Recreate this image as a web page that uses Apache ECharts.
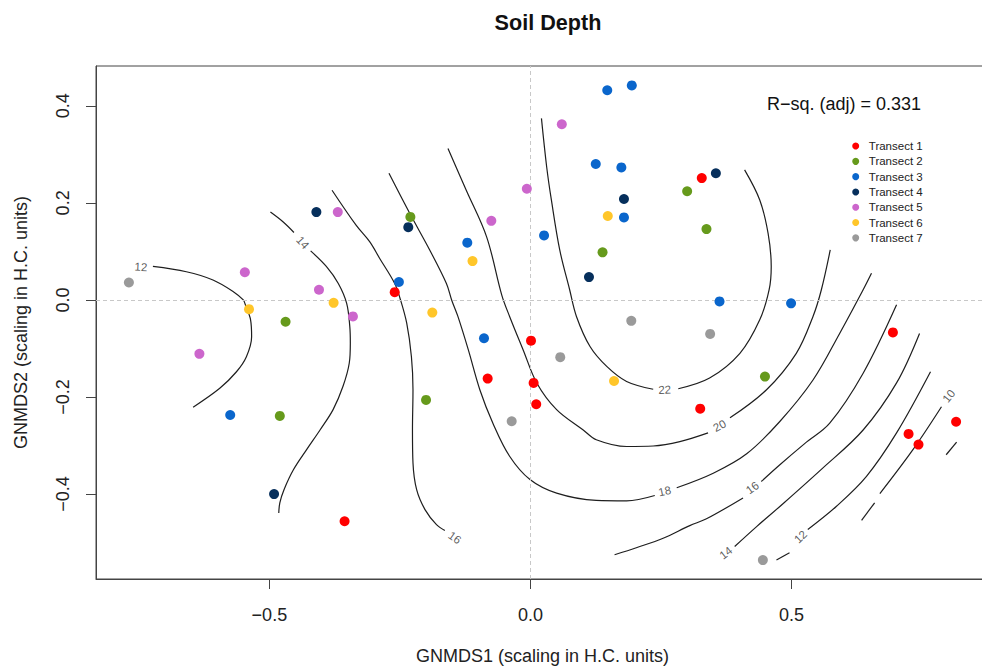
<!DOCTYPE html>
<html>
<head>
<meta charset="utf-8">
<script src="https://cdn.jsdelivr.net/npm/echarts@6/dist/echarts.min.js"></script>
<style>
html,body{margin:0;padding:0;background:#fff;}
#chart{width:982px;height:672px;}
</style>
</head>
<body>
<div id="chart"></div>
<script>
// ---------- DATA ----------
const chartTitle = 'Soil Depth';
const xAxisTitle = 'GNMDS1 (scaling in H.C. units)';
const yAxisTitle = 'GNMDS2 (scaling in H.C. units)';
const rsqText = 'R\u2212sq. (adj) = 0.331';
const xTicks = [-0.5, 0.0, 0.5];
const yTicks = [-0.4, -0.2, 0.0, 0.2, 0.4];
const xRange = [-0.832, 0.878];
const yRange = [-0.575, 0.482];

const transectNames = ['Transect 1','Transect 2','Transect 3','Transect 4','Transect 5','Transect 6','Transect 7'];
const transect1 = [[-0.260,0.016],[-0.356,-0.456],[-0.082,-0.162],[0.001,-0.084],[0.006,-0.171],[0.011,-0.215],[0.328,0.251],[0.325,-0.224],[0.694,-0.067],[0.724,-0.276],[0.743,-0.298],[0.815,-0.251]];
const transect2 = [[-0.230,0.171],[-0.469,-0.045],[-0.480,-0.239],[-0.200,-0.206],[0.138,0.098],[0.300,0.224],[0.337,0.146],[0.449,-0.158]];
const transect3 = [[-0.575,-0.237],[-0.252,0.037],[-0.121,0.118],[-0.089,-0.079],[0.026,0.133],[0.125,0.280],[0.147,0.432],[0.194,0.442],[0.174,0.273],[0.179,0.170],[0.362,-0.003],[0.499,-0.007]];
const transect4 = [[-0.410,0.181],[-0.234,0.150],[-0.491,-0.400],[0.112,0.047],[0.179,0.208],[0.355,0.261]];
const transect5 = [[-0.547,0.057],[-0.369,0.181],[-0.405,0.021],[-0.340,-0.034],[-0.634,-0.111],[-0.007,0.229],[-0.075,0.163],[0.060,0.362]];
const transect6 = [[-0.539,-0.019],[-0.377,-0.006],[-0.188,-0.026],[-0.111,0.080],[0.148,0.173],[0.160,-0.167]];
const transect7 = [[-0.769,0.036],[-0.036,-0.250],[0.057,-0.118],[0.193,-0.043],[0.344,-0.070],[0.445,-0.536]];

// contour segments (data units), split at label gaps / masked areas
const contour12Left = [[-0.723,0.069],[-0.659,0.058],[-0.608,0.041],[-0.569,0.017],[-0.550,0.000],[-0.546,-0.010],[-0.536,-0.041],[-0.534,-0.076],[-0.544,-0.117],[-0.563,-0.148],[-0.595,-0.182],[-0.646,-0.221]];
const contour14LeftA = [[-0.498,0.181],[-0.474,0.161],[-0.453,0.139]];
const contour14LeftB = [[-0.421,0.101],[-0.391,0.069],[-0.368,0.034],[-0.352,-0.007],[-0.346,-0.055],[-0.345,-0.089],[-0.347,-0.130],[-0.359,-0.178],[-0.378,-0.226],[-0.403,-0.268],[-0.429,-0.309],[-0.454,-0.350],[-0.472,-0.391],[-0.480,-0.418],[-0.482,-0.439]];
const contour16Left = [[-0.380,0.226],[-0.334,0.154],[-0.308,0.120],[-0.289,0.086],[-0.260,0.034],[-0.250,0.004],[-0.237,-0.048],[-0.228,-0.117],[-0.225,-0.185],[-0.226,-0.268],[-0.225,-0.336],[-0.218,-0.391],[-0.202,-0.432],[-0.180,-0.463],[-0.164,-0.475]];
const contour18A = [[-0.271,0.261],[-0.231,0.178],[-0.193,0.103],[-0.161,0.034],[-0.151,0.000],[-0.139,-0.034],[-0.119,-0.103],[-0.097,-0.185],[-0.072,-0.254],[-0.040,-0.322],[-0.001,-0.370],[0.050,-0.398],[0.126,-0.413],[0.184,-0.414],[0.238,-0.403]];
const contour18B = [[0.280,-0.387],[0.350,-0.357],[0.414,-0.317],[0.477,-0.251],[0.541,-0.165],[0.592,-0.069],[0.637,0.021],[0.653,0.055]];
const contour20A = [[-0.158,0.312],[-0.123,0.226],[-0.084,0.130],[-0.055,0.010],[-0.040,-0.034],[-0.014,-0.103],[0.012,-0.171],[0.050,-0.226],[0.101,-0.268],[0.126,-0.288],[0.184,-0.302],[0.235,-0.301],[0.286,-0.292],[0.340,-0.274]];
const contour20B = [[0.382,-0.243],[0.452,-0.185],[0.509,-0.110],[0.541,-0.034],[0.557,0.021],[0.574,0.103]];
const contour22A = [[0.021,0.374],[0.031,0.274],[0.040,0.206],[0.056,0.103],[0.075,0.021],[0.088,-0.034],[0.114,-0.096],[0.146,-0.137],[0.184,-0.168],[0.235,-0.184]];
const contour22B = [[0.283,-0.183],[0.343,-0.161],[0.401,-0.110],[0.439,-0.041],[0.457,0.021],[0.461,0.069],[0.455,0.137],[0.439,0.206],[0.410,0.268]];
const contour16RightA = [[0.161,-0.525],[0.204,-0.510],[0.254,-0.491],[0.305,-0.465],[0.337,-0.451],[0.407,-0.408]];
const contour16RightB = [[0.442,-0.374],[0.477,-0.340],[0.525,-0.296],[0.573,-0.254],[0.637,-0.151],[0.701,-0.010]];
const contour14Right = [[0.391,-0.508],[0.433,-0.467],[0.477,-0.426],[0.558,-0.348],[0.637,-0.268],[0.701,-0.171],[0.745,-0.069]];
const contour12RightA = [[0.471,-0.536],[0.496,-0.521]];
const contour12RightB = [[0.531,-0.473],[0.586,-0.425],[0.643,-0.364],[0.701,-0.274],[0.766,-0.148]];
const contour10A = [[0.634,-0.454],[0.659,-0.418]];
const contour10B = [[0.669,-0.399],[0.732,-0.309],[0.787,-0.220]];
const contour10C = [[0.796,-0.319],[0.816,-0.293]];

// contour labels: [x, y, level]
const contourLabels = [[-0.746,0.068,12],[-0.436,0.118,14],[-0.145,-0.490,16],[0.257,-0.394,18],[0.362,-0.259,20],[0.257,-0.185,22],[0.425,-0.387,16],[0.374,-0.521,14],[0.517,-0.488,12],[0.801,-0.198,10]];

// ---------- STYLE ----------
const FONT = '"Liberation Sans", Arial, sans-serif';
const transectColors = ['#ff0000','#669a1c','#0a66cc','#062f5c','#cc66cc','#ffc62a','#9a9a9a'];
const contourLabelRotation = [-3,-48,-35,12,28,2,36,38,44,52];
const contourSegments = [contour12Left,contour14LeftA,contour14LeftB,contour16Left,contour18A,contour18B,contour20A,contour20B,contour22A,contour22B,contour16RightA,contour16RightB,contour14Right,contour12RightA,contour12RightB,contour10A,contour10B,contour10C];
const transects = [transect1,transect2,transect3,transect4,transect5,transect6,transect7];

const chart = echarts.init(document.getElementById('chart'), null, {renderer:'svg'});
const fmt = v => (v < 0 ? '\u2212' : '') + Math.abs(v).toFixed(1);

const series = [];
// zero reference lines
series.push({
  type:'line', data:[], silent:true, z:1,
  markLine:{silent:true, symbol:'none', animation:false, label:{show:false},
    lineStyle:{color:'#c8c8c8', type:[4,3], width:1},
    data:[{xAxis:0},{yAxis:0}]}
});
contourSegments.forEach(seg => {
  series.push({type:'line', data:seg, showSymbol:false, symbol:'none', smooth:0.35, silent:true, z:3,
    lineStyle:{color:'#1e1e1e', width:1.2}});
});
const labelStyle = {show:true, position:'inside', fontSize:11.5, color:'#333',
  textBorderWidth:0, textBorderColor:'transparent', fontFamily:FONT};
series.push({
  type:'scatter', silent:true, z:4, symbolSize:0.01,
  itemStyle:{color:'#333'},
  data: contourLabels.map((d,i)=>({value:d,
    label:Object.assign({}, labelStyle, {rotate:contourLabelRotation[i], formatter:String(d[2])})})),
  label:labelStyle
});
transects.forEach((d,i) => {
  series.push({name:transectNames[i], type:'scatter', data:d, symbol:'circle', symbolSize:10, z:5,
    itemStyle:{color:transectColors[i], opacity:1}});
});

const option = {
  animation:false,
  backgroundColor:'#fff',
  title:{text:chartTitle, left:543, top:6, textAlign:'center',
    textStyle:{fontFamily:FONT, fontWeight:'bold', fontSize:21.6, color:'#111'}},
  grid:{left:96, top:66, width:893, height:513, show:true, borderColor:'#444', borderWidth:1,
    backgroundColor:'transparent', containLabel:false, outerBoundsMode:'none'},
  xAxis:{type:'value', min:xRange[0], max:xRange[1],
    name:xAxisTitle, nameLocation:'middle', nameGap:68,
    nameTextStyle:{fontFamily:FONT, fontSize:18, color:'#222'},
    axisLine:{show:true, onZero:false, lineStyle:{color:'#444'}},
    axisTick:{show:true, customValues:xTicks, length:10, lineStyle:{color:'#444'}},
    axisLabel:{customValues:xTicks, formatter:fmt, margin:27, fontFamily:FONT, fontSize:18, color:'#222'},
    splitLine:{show:false}},
  yAxis:{type:'value', min:yRange[0], max:yRange[1],
    name:yAxisTitle, nameLocation:'middle', nameGap:66,
    nameTextStyle:{fontFamily:FONT, fontSize:18, color:'#222'},
    axisLine:{show:true, onZero:false, lineStyle:{color:'#444'}},
    axisTick:{show:true, customValues:yTicks, length:10, lineStyle:{color:'#444'}},
    axisLabel:{customValues:yTicks, formatter:fmt, rotate:90, margin:24, fontFamily:FONT, fontSize:18, color:'#222'},
    splitLine:{show:false}},
  legend:{data:transectNames, orient:'vertical', left:852.2, top:138.4, padding:0, itemWidth:7, itemHeight:7, itemGap:0,
    icon:'circle', selectedMode:false,
    textStyle:{fontFamily:FONT, fontSize:11.5, lineHeight:15.3, color:'#222', padding:[0,0,0,4.6]}},
  graphic:[{type:'text', left:767, top:95, silent:true,
    style:{text:rsqText, font:'18px ' + FONT, fill:'#111'}}],
  series:series
};
chart.setOption(option);
</script>
</body>
</html>
